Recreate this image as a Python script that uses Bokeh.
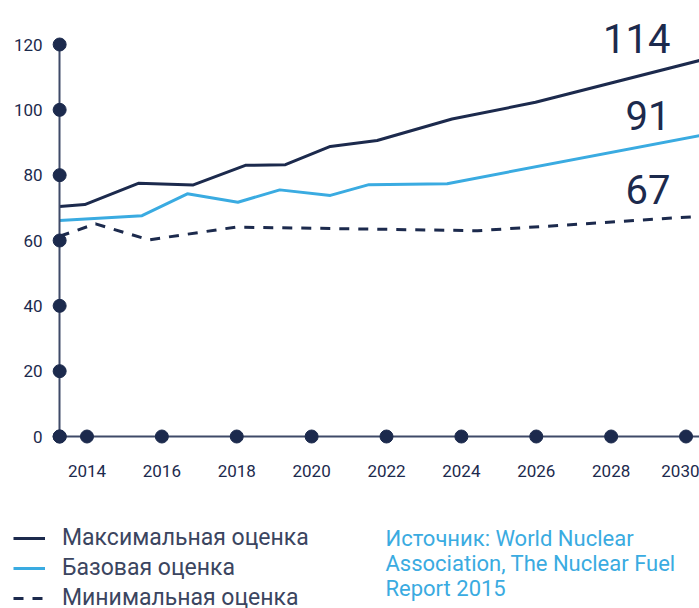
from bokeh.plotting import figure
from bokeh.models import ColumnDataSource, FixedTicker, Legend, LegendItem, Label, Range1d
from bokeh.core.properties import value
from bokeh.embed import file_html
from bokeh.resources import INLINE

# ---- data ----
max_years = [2013.27, 2013.94, 2015.37, 2016.84, 2018.23, 2019.30, 2020.50, 2021.75, 2023.75, 2025.98, 2030.36]
max_vals = [70.4, 71.0, 77.5, 77.0, 83.0, 83.2, 88.8, 90.6, 97.2, 102.3, 115.1]
base_years = [2013.27, 2015.47, 2016.68, 2018.03, 2019.15, 2020.50, 2021.53, 2023.62, 2030.36]
base_vals = [66.1, 67.6, 74.3, 71.7, 75.5, 73.8, 77.1, 77.4, 92.1]
min_years = [2013.27, 2014.23, 2015.65, 2017.97, 2024.43, 2030.36]
min_vals = [61.3, 65.1, 60.2, 64.1, 63.0, 67.4]
series_names = ["Максимальная оценка", "Базовая оценка", "Минимальная оценка"]
end_labels = ["114", "91", "67"]
y_ticks = [0, 20, 40, 60, 80, 100, 120]
x_ticks = [2014, 2016, 2018, 2020, 2022, 2024, 2026, 2028, 2030]
source_lines = ["Источник: World Nuclear", "Association, The Nuclear Fuel", "Report 2015"]

# ---- styles ----
NAVY = "#1c2a4d"
BLUE = "#3aabe1"
AXIS = "#3f4a68"
LEG_TEXT = "#3b4560"
NUM_FONT = "Roboto"
SANS = "Roboto"

origin_x = max_years[0]

p = figure(width=699, height=608, output_backend="svg", toolbar_location=None,
           x_range=Range1d(2011.69, 2030.36), y_range=Range1d(-52.65, 133.47),
           min_border=0, min_border_left=0, min_border_right=0,
           min_border_top=0, min_border_bottom=0)
p.outline_line_color = None
p.grid.visible = False
p.background_fill_color = "white"

# axes
p.yaxis.fixed_location = origin_x
p.yaxis.bounds = (y_ticks[0], y_ticks[-1])
p.yaxis.ticker = FixedTicker(ticks=y_ticks)
p.xaxis.fixed_location = 0
p.xaxis.bounds = (origin_x, max_years[-1])
p.xaxis.ticker = FixedTicker(ticks=x_ticks)
for ax in (p.xaxis, p.yaxis):
    ax.axis_line_color = AXIS
    ax.axis_line_width = 2
    ax.major_tick_line_color = None
    ax.minor_tick_line_color = None
    ax.major_label_text_font = NUM_FONT
    ax.major_label_text_font_size = "17px"
    ax.major_label_text_color = NAVY
p.yaxis.major_label_standoff = 11
p.xaxis.major_label_standoff = 22

# lines
r_max = p.line(max_years, max_vals, line_color=NAVY, line_width=3)
r_base = p.line(base_years, base_vals, line_color=BLUE, line_width=3)
r_min = p.line(min_years, min_vals, line_color=NAVY, line_width=3, line_dash="10 9")

# dots on axes
p.scatter([origin_x] * len(y_ticks), y_ticks, size=13, color=NAVY, level="overlay")
p.scatter([origin_x] + x_ticks, [0] * (len(x_ticks) + 1), size=13, color=NAVY, level="overlay")

# end labels
end_src = ColumnDataSource(dict(
    x=[max_years[-1], base_years[-1], min_years[-1]],
    y=[max_vals[-1], base_vals[-1], min_vals[-1]],
    text=end_labels,
    dy=[-22, -20, -27],
))
p.text(x="x", y="y", text="text", y_offset="dy", x_offset=-29, source=end_src,
       text_align="right", text_baseline="middle", text_font=value(NUM_FONT),
       text_font_size="40px", text_color=NAVY)

# legend
legend = Legend(items=[LegendItem(label=value(n), renderers=[r])
                       for n, r in zip(series_names, [r_max, r_base, r_min])],
                location=(13, -3), orientation="vertical", padding=0, margin=0,
                spacing=3, label_height=24, glyph_height=24, glyph_width=32,
                label_standoff=17, border_line_color=None, background_fill_alpha=0,
                label_text_font=SANS, label_text_font_size="23px",
                label_text_color=LEG_TEXT)
p.add_layout(legend)

# source note
for i, line in enumerate(source_lines):
    p.add_layout(Label(x=385, y=70 - 25 * i, x_units="screen", y_units="screen",
                       text=line, text_font=SANS, text_font_size="22px",
                       text_color=BLUE, text_baseline="middle"))

open("out.html", "w").write(file_html(p, INLINE))
